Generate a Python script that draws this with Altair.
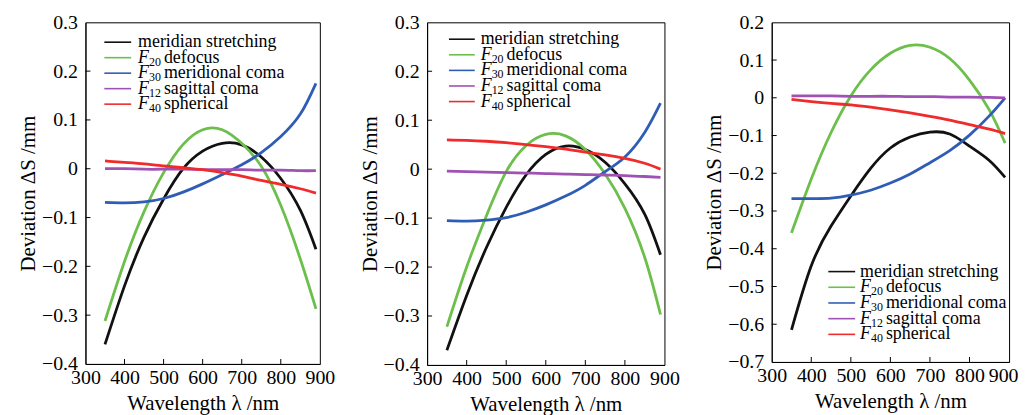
import altair as alt
import pandas as pd

# ---------------- data ----------------
WL = [350, 400, 450, 500, 550, 600, 650, 700, 750, 800, 850, 890]
SERIES = ["meridian stretching", "F20 defocus", "F30 meridional coma",
          "F12 sagittal coma", "F40 spherical"]
F_PART = ["", "F", "F", "F", "F"]
SUB_PART = ["", "20", "30", "12", "40"]
REST_PART = ["meridian stretching", "defocus", "meridional coma",
             "sagittal coma", "spherical"]
COLORS = ["#111111", "#6cbf4a", "#2f5db5", "#a052b4", "#ef2b2b"]

X_LABELS = [300, 400, 500, 600, 700, 800, 900]
X_INNER = [400, 500, 600, 700, 800]

# panel (a)
A_BLACK = [-0.360, -0.240, -0.140, -0.062, 0.000, 0.036, 0.052, 0.049, 0.024, -0.020, -0.085, -0.165]
A_GREEN = [-0.312, -0.190, -0.088, -0.008, 0.050, 0.080, 0.080, 0.052, 0.005, -0.075, -0.185, -0.287]
A_BLUE = [-0.069, -0.070, -0.068, -0.061, -0.048, -0.031, -0.012, 0.008, 0.033, 0.066, 0.112, 0.175]
A_PURPLE = [0.000, 0.000, -0.001, -0.001, -0.001, -0.002, -0.002, -0.002, -0.003, -0.003, -0.004, -0.004]
A_RED = [0.016, 0.013, 0.010, 0.006, 0.002, -0.002, -0.008, -0.015, -0.024, -0.032, -0.041, -0.050]
A_YTICKS = [0.3, 0.2, 0.1, 0.0, -0.1, -0.2, -0.3, -0.4]

# panel (b)
B_BLACK = [-0.370, -0.258, -0.160, -0.078, -0.012, 0.030, 0.047, 0.040, 0.014, -0.030, -0.092, -0.175]
B_GREEN = [-0.322, -0.200, -0.095, -0.005, 0.048, 0.071, 0.068, 0.040, -0.010, -0.080, -0.180, -0.297]
B_BLUE = [-0.105, -0.106, -0.104, -0.099, -0.088, -0.073, -0.055, -0.033, -0.005, 0.025, 0.075, 0.135]
B_PURPLE = [-0.004, -0.005, -0.006, -0.007, -0.008, -0.009, -0.010, -0.011, -0.012, -0.013, -0.015, -0.017]
B_RED = [0.060, 0.059, 0.057, 0.054, 0.050, 0.046, 0.041, 0.035, 0.029, 0.022, 0.012, 0.000]
B_YTICKS = [0.3, 0.2, 0.1, 0.0, -0.1, -0.2, -0.3, -0.4]

# panel (c)
C_BLACK = [-0.615, -0.445, -0.340, -0.260, -0.187, -0.133, -0.104, -0.091, -0.096, -0.128, -0.166, -0.211]
C_GREEN = [-0.358, -0.215, -0.092, 0.005, 0.074, 0.118, 0.139, 0.134, 0.104, 0.047, -0.032, -0.120]
C_BLUE = [-0.267, -0.267, -0.266, -0.258, -0.245, -0.226, -0.202, -0.172, -0.140, -0.099, -0.048, 0.000]
C_PURPLE = [0.005, 0.005, 0.005, 0.004, 0.004, 0.004, 0.003, 0.003, 0.002, 0.002, 0.001, 0.000]
C_RED = [-0.004, -0.010, -0.015, -0.019, -0.025, -0.032, -0.040, -0.049, -0.059, -0.071, -0.083, -0.095]
C_YTICKS = [0.2, 0.1, 0.0, -0.1, -0.2, -0.3, -0.4, -0.5, -0.6, -0.7]

FONT = "Liberation Serif, Times New Roman, serif"


def lines_df(black, green, blue, purple, red):
    rows = []
    for name, vals in zip(SERIES, [black, green, blue, purple, red]):
        for w, v in zip(WL, vals):
            rows.append({"wl": w, "val": v, "series": name})
    return pd.DataFrame(rows)


LEG_DF = pd.DataFrame({"series": SERIES, "idx": list(range(5)), "fpart": F_PART,
                       "sub": SUB_PART, "rest": REST_PART})


def panel(df, ydom, yticks, w, h, leg_y0, leg_dy, leg_lx0, leg_lx1, leg_tx, last_shift=0):
    xs = alt.Scale(domain=[300, 900], nice=False, zero=False)
    ys = alt.Scale(domain=ydom, nice=False, zero=False)
    color = alt.Color("series:N", scale=alt.Scale(domain=SERIES, range=COLORS), legend=None)
    loff = {"condition": {"test": "datum.value == 900", "value": last_shift}, "value": 0}
    xaxis = alt.Axis(values=X_LABELS, ticks=False, grid=False, labelFontSize=20,
                     labelPadding=4, labelAlign="center", labelFlush=False,
                     labelOffset=loff, labelOverlap=False,
                     title="Wavelength λ /nm",
                     titleFontSize=21, titlePadding=5, labelFont=FONT, titleFont=FONT,
                     titleFontWeight="normal", domainColor="black", labelColor="black",
                     titleColor="black")
    yaxis = alt.Axis(values=yticks, format=".1~f", ticks=False, grid=False, labelFontSize=20,
                     labelPadding=8, labelOverlap=False, title="Deviation ΔS /mm",
                     titleFontSize=21, titlePadding=3, labelFont=FONT, titleFont=FONT,
                     titleFontWeight="normal", domainColor="black", labelColor="black",
                     titleColor="black")
    lines = alt.Chart(df).mark_line(strokeWidth=2.8, interpolate="natural").encode(
        x=alt.X("wl:Q", scale=xs, axis=xaxis),
        y=alt.Y("val:Q", scale=ys, axis=yaxis),
        color=color,
    )
    xt = alt.Chart(pd.DataFrame({"wl": X_INNER})).mark_rule(color="black", strokeWidth=1).encode(
        x=alt.X("wl:Q", scale=xs, axis=xaxis),
        y=alt.value(h), y2=alt.value(h - 5),
    )
    yt = alt.Chart(pd.DataFrame({"val": yticks[1:-1]})).mark_rule(color="black", strokeWidth=1).encode(
        y=alt.Y("val:Q", scale=ys, axis=yaxis),
        x=alt.value(0), x2=alt.value(5),
    )
    leg = alt.Chart(LEG_DF).transform_calculate(
        py=f"{leg_y0} + datum.idx * {leg_dy}",
        px=f"datum.idx == 0 ? {leg_tx} : {leg_tx} + 26",
    )
    leg_lines = leg.mark_rule(strokeWidth=1.6).encode(
        x=alt.value(leg_lx0), x2=alt.value(leg_lx1),
        y=alt.Y("py:Q", scale=None), color=color,
    )
    leg_f = leg.mark_text(font=FONT, fontSize=18, fontStyle="italic", align="left",
                          baseline="middle", color="black").encode(
        x=alt.value(leg_tx), y=alt.Y("py:Q", scale=None), text="fpart:N")
    leg_sub = leg.mark_text(font=FONT, fontSize=12, align="left", baseline="middle",
                            color="black", dy=4).encode(
        x=alt.value(leg_tx + 11), y=alt.Y("py:Q", scale=None), text="sub:N")
    leg_rest = leg.mark_text(font=FONT, fontSize=18, align="left", baseline="middle",
                             color="black").encode(
        x=alt.X("px:Q", scale=None), y=alt.Y("py:Q", scale=None),
        text="rest:N")
    return alt.layer(lines, xt, yt, leg_lines, leg_f, leg_sub, leg_rest).properties(
        width=w, height=h)


pa = panel(lines_df(A_BLACK, A_GREEN, A_BLUE, A_PURPLE, A_RED), [-0.4, 0.3], A_YTICKS,
           236, 344, 20, 15.6, 19, 46, 53)
pb = panel(lines_df(B_BLACK, B_GREEN, B_BLUE, B_PURPLE, B_RED), [-0.4, 0.3], B_YTICKS,
           239, 345, 17, 15.7, 22, 48, 54)
pc = panel(lines_df(C_BLACK, C_GREEN, C_BLUE, C_PURPLE, C_RED), [-0.7, 0.2], C_YTICKS,
           239, 342, 251, 15.8, 57, 84, 89, last_shift=-6)

chart = alt.hconcat(pa, pb, pc, spacing=108, bounds="flush").properties(
    padding={"left": 9, "top": 2, "right": 0, "bottom": 0}
).configure_view(stroke="black", strokeWidth=1).configure_axis(domainWidth=1)

chart.save("out.html", embed_options={"renderer": "svg", "actions": False})
